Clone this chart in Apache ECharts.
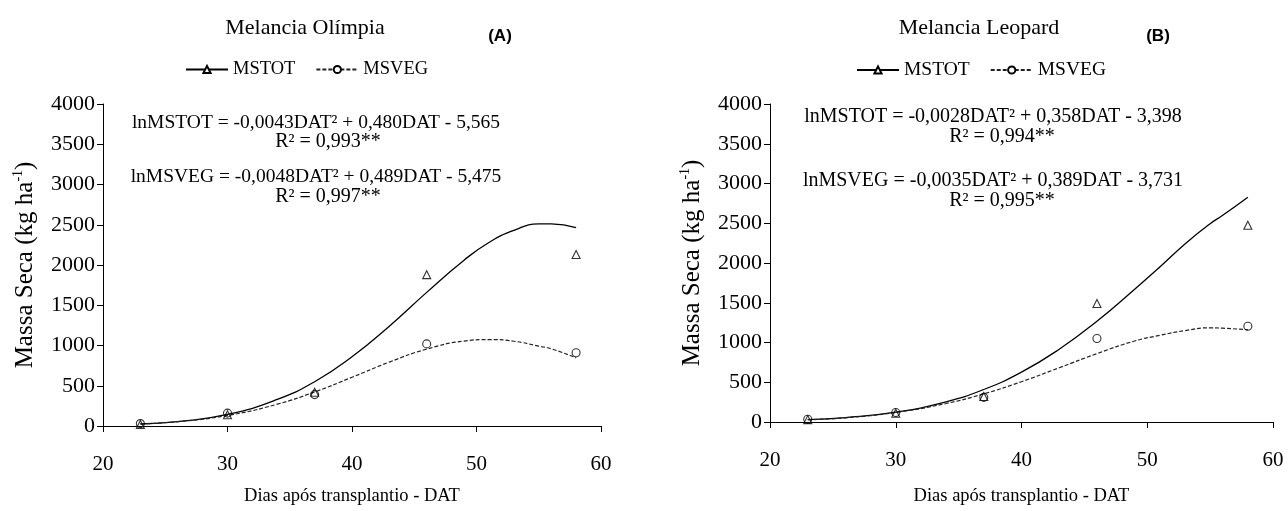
<!DOCTYPE html>
<html>
<head>
<meta charset="utf-8">
<script src="https://cdn.jsdelivr.net/npm/echarts@6/dist/echarts.min.js"></script>
<style>
html,body{margin:0;padding:0;background:#fff;}
#chart{width:1288px;height:511px;}
</style>
</head>
<body>
<div id="chart"></div>
<script>
// observed points (DAT)
var dat = [23, 30, 37, 46, 58];
var olimpiaTot = [20, 140, 420, 1880, 2130];
var olimpiaVeg = [30, 160, 390, 1020, 910];
var leopardTot = [30, 110, 320, 1490, 2475];
var leopardVeg = [35, 120, 310, 1050, 1205];

// fitted curves
var curveDat = [23, 26, 30, 34, 37, 40, 43, 46, 49, 51, 53, 55, 56, 58];
var olimpiaTotCurve = [25, 55, 143, 330, 550, 860, 1240, 1660, 2060, 2280, 2430, 2510, 2510, 2465];
var olimpiaVegCurve = [25, 54, 131, 271, 423, 605, 794, 955, 1055, 1074, 1053, 992, 960, 846];
var leopardTotCurve = [29, 55, 124, 254, 409, 627, 915, 1268, 1671, 1950, 2240, 2495, 2600, 2828];
var leopardVegCurve = [29, 52, 120, 233, 354, 507, 682, 860, 1019, 1090, 1150, 1185, 1180, 1161];

var yTicks = [0, 500, 1000, 1500, 2000, 2500, 3000, 3500, 4000];
var xTicks = [20, 30, 40, 50, 60];

var serif = '"Liberation Serif", "Times New Roman", serif';

function pairs(xs, ys) {
  var list = [];
  for (var i = 0; i < xs.length; i++) list.push([xs[i], ys[i]]);
  return list;
}

function xAxisOpt(idx) {
  return {
    gridIndex: idx, type: 'value', min: xTicks[0], max: xTicks[xTicks.length - 1], interval: 10,
    name: 'Dias após transplantio - DAT', nameLocation: 'middle', nameGap: idx == 0 ? 61 : 65,
    nameTextStyle: {fontFamily: serif, fontSize: 18.5, color: '#000'},
    axisLine: {show: true, onZero: false, lineStyle: {color: '#000', width: 1}},
    axisTick: {show: true, inside: false, length: 6, lineStyle: {color: '#000'}},
    axisLabel: {fontFamily: serif, fontSize: 21, color: '#000', margin: 28},
    splitLine: {show: false}
  };
}

function yAxisOpt(idx) {
  return {
    gridIndex: idx, type: 'value', min: yTicks[0], max: yTicks[yTicks.length - 1], interval: 500,
    name: '{a|Massa Seca (kg ha}{s|-1}{a|)}', nameLocation: 'middle', nameGap: 64,
    nameTextStyle: {
      rich: {
        a: {fontFamily: serif, fontSize: 25, color: '#000', lineHeight: 28},
        s: {fontFamily: serif, fontSize: 14, color: '#000', lineHeight: 28, verticalAlign: 'top', padding: [0, 0, 11, 0]}
      }
    },
    axisLine: {show: true, lineStyle: {color: '#000', width: 1}},
    axisTick: {show: true, inside: false, length: 6, lineStyle: {color: '#000'}},
    axisLabel: {fontFamily: serif, fontSize: 22, color: '#000', margin: 8, formatter: function (v) { return String(v); }},
    splitLine: {show: false}
  };
}

function curveSeries(name, idx, data, dashed) {
  return {
    name: name, type: 'line', xAxisIndex: idx, yAxisIndex: idx,
    data: pairs(curveDat, data), smooth: true, showSymbol: false,
    symbol: dashed ? 'circle' : 'triangle', symbolSize: 8,
    itemStyle: {color: '#fff', borderColor: '#000', borderWidth: 1},
    lineStyle: {color: dashed ? '#222' : '#000', width: dashed ? 1.2 : 1.3, type: dashed ? [4, 2] : 'solid'},
    silent: true, z: 2
  };
}

function pointSeries(name, idx, data, tri) {
  return {
    name: name, type: 'scatter', xAxisIndex: idx, yAxisIndex: idx,
    data: pairs(dat, data), symbol: tri ? 'triangle' : 'circle', symbolSize: 8,
    itemStyle: {color: 'rgba(255,255,255,0)', borderColor: '#000', borderWidth: 1.1},
    z: 3
  };
}

function legendOpt(left, size) {
  return {
    left: left, top: 55, itemWidth: 42, itemHeight: 9, itemGap: 20,
    data: ['MSTOT', 'MSVEG'],
    textStyle: {fontFamily: serif, fontSize: size, color: '#000'}
  };
}

function txt(x, y, str, size) {
  return {
    type: 'text', x: x, y: y,
    style: {text: str, fontFamily: serif, fontSize: size || 19.5, fill: '#000', align: 'center', verticalAlign: 'middle'}
  };
}

function tag(x, str) {
  return {type: 'text', x: x, y: 36, style: {text: str, fontFamily: '"Liberation Sans", sans-serif', fontWeight: 'bold', fontSize: 17, fill: '#000', align: 'center', verticalAlign: 'middle'}};
}

var chart = echarts.init(document.getElementById('chart'), null, {renderer: 'canvas'});
var option = {
  animation: false,
  backgroundColor: '#fff',
  grid: [
    {left: 103, top: 104, width: 498, height: 337},
    {left: 770, top: 104, width: 503, height: 340}
  ],
  xAxis: [xAxisOpt(0), xAxisOpt(1)],
  yAxis: [yAxisOpt(0), yAxisOpt(1)],
  legend: [legendOpt(180, 18.5), legendOpt(851, 19.5)],
  graphic: [
    txt(305, 28, 'Melancia Olímpia', 22),
    txt(979, 28, 'Melancia Leopard', 22),
    tag(500, '(A)'),
    tag(1158, '(B)'),
    txt(316, 123, 'lnMSTOT = -0,0043DAT² + 0,480DAT - 5,565'),
    txt(328, 142, 'R² = 0,993**', 20),
    txt(316, 177, 'lnMSVEG = -0,0048DAT² + 0,489DAT - 5,475'),
    txt(328, 197, 'R² = 0,997**', 20),
    txt(993, 117, 'lnMSTOT = -0,0028DAT² + 0,358DAT - 3,398', 20),
    txt(1002, 137, 'R² = 0,994**', 20),
    txt(993, 181, 'lnMSVEG = -0,0035DAT² + 0,389DAT - 3,731', 20),
    txt(1002, 201, 'R² = 0,995**', 20)
  ],
  series: [
    curveSeries('MSTOT', 0, olimpiaTotCurve, false),
    curveSeries('MSVEG', 0, olimpiaVegCurve, true),
    pointSeries('MSTOT', 0, olimpiaTot, true),
    pointSeries('MSVEG', 0, olimpiaVeg, false),
    curveSeries('MSTOT', 1, leopardTotCurve, false),
    curveSeries('MSVEG', 1, leopardVegCurve, true),
    pointSeries('MSTOT', 1, leopardTot, true),
    pointSeries('MSVEG', 1, leopardVeg, false)
  ]
};
chart.setOption(option);
</script>
</body>
</html>
